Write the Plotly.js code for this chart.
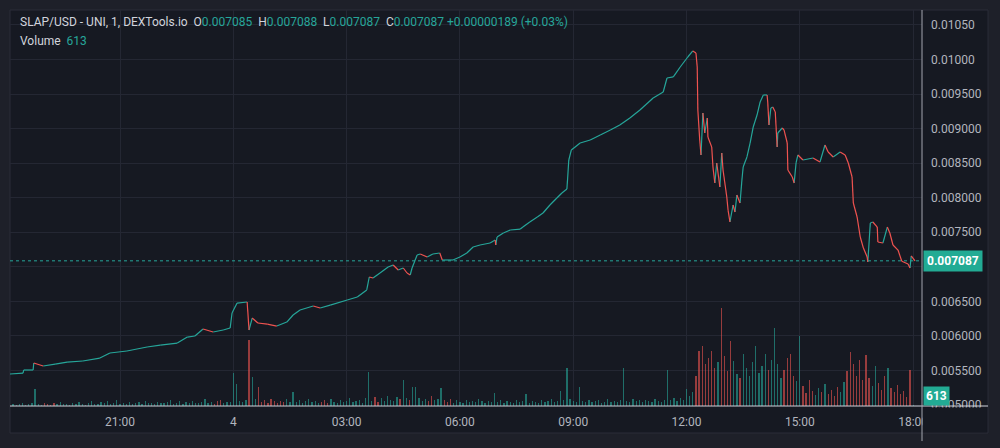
<!DOCTYPE html>
<html>
<head>
<meta charset="utf-8">
<script src="https://cdn.plot.ly/plotly-3.0.1.min.js"></script>
<style>
html,body{margin:0;padding:0;background:#1e2029;}
#chart{width:1000px;height:448px;}
</style>
</head>
<body>
<div id="chart"></div>
<script>
// ---- DATA (minutes after 18:00 on day 3) ----
const priceMinutes = [5,26,27,42,43,58,77,96,121,148,164,191,223,244,271,287,299,312,328,344,355,358,366,382,385,390,399,414,429,445,455,466,487,498,514,541,557,572,576,582,593,606,614,622,630,636,641,644,652,657,668,677,688,692,709,720,731,741,752,768,776,777,779,789,800,816,820,831,843,852,863,874,882,890,893,897,911,927,943,959,974,990,1006,1027,1043,1049,1059,1070,1082,1090,1095,1097,1098,1101,1103,1106,1109,1113,1114,1120,1122,1125,1128,1133,1136,1138,1144,1146,1149,1154,1157,1160,1165,1168,1170,1176,1181,1186,1192,1197,1202,1208,1209,1211,1214,1217,1221,1224,1225,1232,1235,1240,1241,1248,1251,1254,1257,1265,1281,1292,1300,1305,1313,1324,1332,1337,1343,1345,1351,1356,1361,1367,1368,1372,1376,1383,1384,1392,1399,1403,1408,1416,1422,1432,1435,1437,1443];
const priceClose = [0.005449,0.005463,0.005507,0.005507,0.005608,0.005565,0.005593,0.005622,0.005637,0.005680,0.005753,0.005782,0.005840,0.005868,0.005897,0.005984,0.005999,0.006100,0.006057,0.006086,0.006115,0.006332,0.006476,0.006491,0.006086,0.006259,0.006187,0.006172,0.006143,0.006201,0.006303,0.006375,0.006433,0.006404,0.006447,0.006520,0.006563,0.006665,0.006853,0.006838,0.006911,0.006997,0.007026,0.006954,0.006983,0.006911,0.006882,0.006983,0.007171,0.007186,0.007142,0.007186,0.007200,0.007099,0.007099,0.007142,0.007200,0.007287,0.007316,0.007345,0.007388,0.007316,0.007432,0.007490,0.007533,0.007547,0.007576,0.007649,0.007721,0.007779,0.007895,0.007996,0.008069,0.008126,0.008546,0.008691,0.008792,0.008836,0.008908,0.008980,0.009053,0.009154,0.009270,0.009444,0.009530,0.009733,0.009748,0.009892,0.010037,0.010124,0.010095,0.009892,0.009270,0.008836,0.008619,0.009226,0.008937,0.009154,0.008879,0.008734,0.008445,0.008213,0.008503,0.008155,0.008647,0.008401,0.008011,0.007822,0.007649,0.007895,0.007794,0.008040,0.007924,0.008257,0.008445,0.008590,0.008792,0.009024,0.009197,0.009386,0.009487,0.009487,0.009386,0.009053,0.009299,0.009313,0.009241,0.008734,0.008937,0.009009,0.008980,0.008792,0.008401,0.008300,0.008213,0.008503,0.008619,0.008546,0.008575,0.008517,0.008763,0.008662,0.008590,0.008662,0.008619,0.008503,0.008300,0.007924,0.007721,0.007432,0.007272,0.007142,0.007070,0.007634,0.007649,0.007576,0.007359,0.007345,0.007576,0.007490,0.007316,0.007243,0.007080,0.007041,0.006983,0.007157,0.007087];

// volume, one value per 5-minute slot starting 18:05
const volumes = [
900,1500,700,1300,1800,600,1100,1600,
10200,
1400,800,2100,1200,900,1700,1300,2400,1000,1500,800,
1900,1200,2600,1400,900,1800,3100,1300,1000,2200,
1600,2800,1100,1900,3400,1300,2000,1500,2700,1200,
1800,2300,1400,3000,1700,2100,1300,2500,1900,1600,
2200,3600,1500,2000,2900,1400,2400,1800,3300,2100,
1700,2600,4200,1900,2300,1500,2800,3900,2000,2500,
2200,19800,13200,3000,2400,3500,39600,17400,4100,11400,
2600,3800,2100,4500,2900,1800,3300,2400,4000,2700,
8400,2300,3600,1900,2800,4400,2200,3100,1700,2600,
3500,2100,4200,2700,1800,3900,2400,3000,5100,2200,2900,3700,1900,4600,
20400,3200,5400,2600,4800,3100,6000,3800,2900,5200,4300,
15600,4900,3600,11400,11400,
5100,3300,4500,2800,6200,3700,4100,10800,
3600,2600,4300,2100,3400,2700,1900,3800,2500,3000,2200,4100,2800,1800,3300,2400,
7800,2600,3400,2000,3100,2400,1800,3600,2200,2900,
7200,2100,3200,2500,1900,3700,2300,2800,4000,2600,3100,
9000,3500,22800,4200,3300,2700,11400,
3000,2400,3800,2200,2900,3500,2000,2700,4100,2300,3200,2600,3700,
22800,3100,2500,4200,2800,3400,2200,3900,3000,2600,4500,3300,2700,3600,
21600,3800,4600,3200,5100,3900,10200,6000,8400,
18000,33000,36000,25200,28800,33000,22800,26400,58800,30000,21000,39000,27000,19200,16800,31200,22800,18000,26400,36000,19800,24000,31200,21600,27600,46800,25200,16800,21600,28800,31200,18000,15000,42000,
12000,7800,15600,9000,6600,10800,8400,13200,7200,9600,6000,11400,8400,
14400,21000,32400,25200,18000,27600,15600,
30600,16800,12000,24000,13800,9600,18000,22800,10800,8400,12600,
7200,9000,5400,21600,613
];

const priceTicks = [0.005,0.0055,0.006,0.0065,0.007,0.0075,0.008,0.0085,0.009,0.0095,0.010,0.0105];
const priceTickText = ["0.005000","0.005500","0.006000","0.006500","0.007000","0.007500","0.008000","0.008500","0.009000","0.009500","0.01000","0.01050"];
const timeTicks = [180,360,540,720,900,1080,1260,1440];
const timeTickText = ["21:00","4","03:00","06:00","09:00","12:00","15:00","18:00"];
const lastPrice = 0.007087;
const lastVolume = 613;

// ---- BUILD ----
const T0 = Date.UTC(2024, 2, 3, 18, 0);
function ts(m){ return new Date(T0 + m*60000).toISOString().slice(0,23).replace('T',' '); }

const UP = '#26a69a', DN = '#ef5350';
const upX=[],upY=[],dnX=[],dnY=[];
for (let i=1;i<priceClose.length;i++){
  const a=priceClose[i-1], b=priceClose[i];
  const X = b>=a?upX:dnX, Y = b>=a?upY:dnY;
  X.push(ts(priceMinutes[i-1]), ts(priceMinutes[i]), null);
  Y.push(a, b, null);
}
const volX=[], volC=[];
for (let i=0;i<volumes.length;i++){
  const m = 5*(i+1);
  volX.push(ts(m));
  let j=0;
  for (let k=0;k<priceMinutes.length;k++){ if (priceMinutes[k]<=m) j=k; }
  const up = j===0 || priceClose[j]>=priceClose[j-1];
  volC.push(up ? 'rgba(38,166,154,0.6)' : 'rgba(239,83,80,0.6)');
}

const traces = [
  {type:'bar', x:volX, y:volumes, yaxis:'y2', marker:{color:volC, line:{width:0}}, width:120000, hoverinfo:'skip'},
  {type:'scatter', mode:'lines', x:upX, y:upY, line:{color:UP, width:1.2}, connectgaps:false, hoverinfo:'skip'},
  {type:'scatter', mode:'lines', x:dnX, y:dnY, line:{color:DN, width:1.2}, connectgaps:false, hoverinfo:'skip'}
];

const PANEL = '#161922', GRID = '#242733', TXT = '#b2b5be';
const FONT = 'Roboto, "Open Sans", sans-serif';

const hdr = '<span style="color:#d1d4dc">SLAP/USD - UNI, 1, DEXTools.io  O</span><span style="color:#26a69a">0.007085</span>' +
  '<span style="color:#d1d4dc">  H</span><span style="color:#26a69a">0.007088</span>' +
  '<span style="color:#d1d4dc">  L</span><span style="color:#26a69a">0.007087</span>' +
  '<span style="color:#d1d4dc">  C</span><span style="color:#26a69a">0.007087 +0.00000189 (+0.03%)</span>';

const layout = {
  width:1000, height:448,
  margin:{l:10, r:78, t:10, b:42, pad:0},
  paper_bgcolor:'#1e2029', plot_bgcolor:PANEL,
  showlegend:false, bargap:0, hovermode:false,
  font:{family:FONT, color:TXT, size:12},
  xaxis:{type:'date', range:[ts(5.25), ts(1454.1)], tickvals:timeTicks.map(ts), ticktext:timeTickText,
    showgrid:true, gridcolor:GRID, gridwidth:1, zeroline:false, showline:false, ticks:'',
    tickfont:{family:FONT, size:12, color:TXT}, ticklabelstandoff:7, fixedrange:true},
  yaxis:{range:[0.004986, 0.010717], side:'right', tickvals:priceTicks, ticktext:priceTickText,
    showgrid:true, gridcolor:GRID, gridwidth:1, zeroline:false, showline:false, ticks:'',
    tickfont:{family:FONT, size:12, color:TXT}, ticklabelstandoff:8, fixedrange:true},
  yaxis2:{overlaying:'y', range:[0, 237600], visible:false, fixedrange:true},
  shapes:[
    {type:'rect', xref:'paper', yref:'paper', x0:0, x1:1.0724, y0:-0.0682, y1:1, fillcolor:PANEL, line:{width:1, color:'#2a2d38'}, layer:'below'},
    {type:'line', xref:'paper', yref:'y', x0:0, x1:1, y0:lastPrice, y1:lastPrice, line:{color:UP, width:1, dash:'dot'}},
    {type:'rect', xref:'paper', yref:'paper', x0:1.0005, x1:1.071, y0:-0.066, y1:-0.004, fillcolor:PANEL, line:{width:0}, layer:'above'},
    {type:'line', xref:'paper', yref:'paper', x0:0, x1:1.0724, y0:0, y1:0, line:{color:'#d1d4dc', width:1}, layer:'above'},
    {type:'line', xref:'paper', yref:'paper', x0:1, x1:1, y0:-0.0885, y1:1, line:{color:'#a3a6af', width:1}, layer:'above'}
  ],
  annotations:[
    {xref:'paper', yref:'paper', x:0.00877, y:0.9697, xanchor:'left', yanchor:'middle', showarrow:false,
     text:hdr, font:{family:FONT, size:12, color:'#d1d4dc'}},
    {xref:'paper', yref:'paper', x:0.00877, y:0.9217, xanchor:'left', yanchor:'middle', showarrow:false,
     text:'<span style="color:#d1d4dc">Volume  </span><span style="color:#26a69a">613</span>', font:{family:FONT, size:12, color:'#d1d4dc'}},
    {xref:'paper', yref:'y', x:1, y:lastPrice, xanchor:'left', yanchor:'middle', xshift:1, showarrow:false,
     text:'<b>0.007087</b>', bgcolor:'#22ab94', borderpad:3, font:{family:FONT, size:12, color:'#ffffff'}},
    {xref:'paper', yref:'paper', x:1, y:0, xanchor:'left', yanchor:'bottom', xshift:1, showarrow:false,
     text:'<b>'+lastVolume+'</b>', bgcolor:'#22ab94', borderpad:2, font:{family:FONT, size:12, color:'#ffffff'}}
  ]
};

Plotly.newPlot('chart', traces, layout, {staticPlot:true, displayModeBar:false});
</script>
</body>
</html>
